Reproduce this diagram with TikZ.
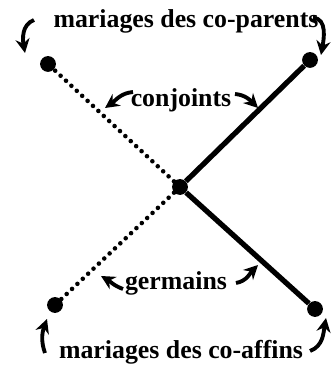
\documentclass[tikz,border=0pt]{standalone}
\usepackage{fontspec}
\setmainfont{Liberation Serif}
\usetikzlibrary{arrows.meta}

\tikzset{
    point/.style={circle, fill, inner sep=0pt, minimum size=9pt},
    label/.style={font=\fontsize{14.7}{16}\bfseries\selectfont, inner sep=0pt},
    lien/.style={line width=3pt},
    pointille/.style={line width=2.6pt, line cap=round, dash pattern=on 0pt off 4.2pt},
    fleche/.style={line width=2.2pt, -{Stealth[length=8pt, width=8pt]}}
}

\begin{document}
\begin{tikzpicture}[x=0.02cm, y=0.02cm]
    \useasboundingbox (0,0) rectangle (331,371);

    \node (ego) at (180,184) [point] {};
    \node (hautgauche) at (48,307) [point] {};
    \node (hautdroite) at (310,311) [point] {};
    \node (basgauche) at (55,66) [point] {};
    \node (basdroite) at (315,62) [point] {};

    \draw[lien] (ego) -- (hautdroite);
    \draw[lien] (ego) -- (basdroite);
    \draw[pointille] (ego) -- (hautgauche);
    \draw[pointille] (ego) -- (basgauche);

    \node (coparents) at (186,350) [label] {mariages des co-parents};
    \node (coaffins) at (181,19) [label] {mariages des co-affins};
    \node (conjoints) at (181,271) [label] {conjoints};
    \node (germains) at (176,88) [label] {germains};

    % fleches courbes
    \coordinate (a1) at (34,351);  \coordinate (a2) at (25,318);
    \coordinate (b1) at (313,353); \coordinate (b2) at (321,316);
    \coordinate (c1) at (133,279); \coordinate (c2) at (105,263);
    \coordinate (d1) at (235,277); \coordinate (d2) at (258,263);
    \coordinate (e1) at (123,82);  \coordinate (e2) at (101,95);
    \coordinate (f1) at (236,88);  \coordinate (f2) at (258,106);
    \coordinate (g1) at (45,18);   \coordinate (g2) at (47,52);
    \coordinate (h1) at (310,20);  \coordinate (h2) at (326,53);

    \draw[fleche] (a1) to[out=200, in=100] (a2);
    \draw[fleche] (b1) to[out=0, in=80] (b2);
    \draw[fleche] (c1) to[out=185, in=35] (c2);
    \draw[fleche] (d1) to[out=-5, in=135] (d2);
    \draw[fleche] (e1) to[out=160, in=-30] (e2);
    \draw[fleche] (f1) to[out=10, in=225] (f2);
    \draw[fleche] (g1) to[out=110, in=250] (g2);
    \draw[fleche] (h1) to[out=20, in=260] (h2);
\end{tikzpicture}
\end{document}
